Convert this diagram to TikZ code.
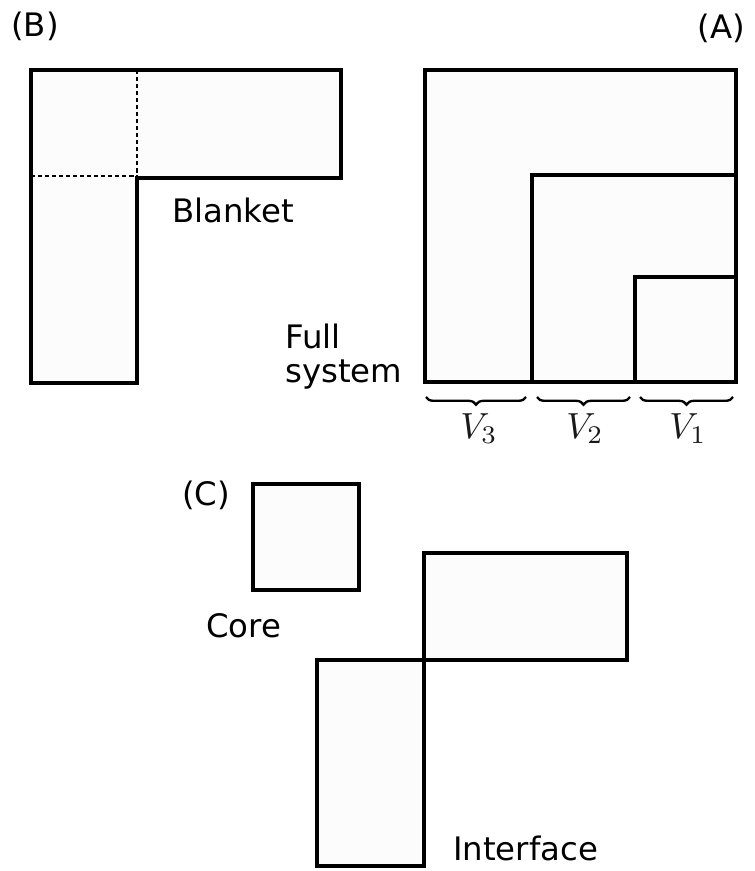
\documentclass[tikz,border=0pt]{standalone}
\usepackage{amsmath}
\usepackage{fontspec}
\setmainfont{DejaVu Sans}
\usepackage{tikz}
\usetikzlibrary{positioning,decorations.pathreplacing}

\begin{document}
\begin{tikzpicture}[x=0.03cm,y=-0.03cm,
	panel/.style={draw,line width=2.6pt,fill=black!1},
	cut/.style={line width=2pt,dash pattern=on 3.5pt off 2.5pt},
	tag/.style={inner sep=0pt,font=\fontsize{27.6}{29}\selectfont},
	vlab/.style={inner sep=0pt,anchor=base,black!90},
	vbrace/.style={decorate,decoration={brace,mirror,amplitude=6.5pt},line width=2pt}]
		\useasboundingbox (0,0) rectangle (754,871);
		% (B)
		\draw[panel] (31,70) -- (341,70) -- (341,178) -- (137,178) -- (137,383) -- (31,383) -- cycle;
		\draw[cut] (137,70) -- (137,178);
		\draw[cut] (31,176) -- (137,176);
		\node[tag,anchor=base west] (labB) at (11,37) {(B)};
		\node[tag,anchor=base west] (blanket) at (172,222) {Blanket};
		% (A)
		\draw[panel] (425,70) rectangle (736,382);
		\draw[panel] (532,175) rectangle (736,382);
		\draw[panel] (635,277) rectangle (736,382);
		\node[tag,anchor=base east] (labA) at (745,39) {(A)};
		\node[tag,anchor=base west,align=left] (full) at (285,382) {Full\\system};
		\draw[vbrace] (426,397) -- (526,397);
		\draw[vbrace] (537,397) -- (630,397);
		\draw[vbrace] (640,397) -- (733,397);
		\node[vlab] (v3) at (479,438) {\scalebox{3.1}{$V_3$}};
		\node[vlab] (v2) at (585,438) {\scalebox{3.1}{$V_2$}};
		\node[vlab] (v1) at (688,438) {\scalebox{3.1}{$V_1$}};
		% (C)
		\draw[panel] (253,484) rectangle (359,590);
		\draw[panel] (424,553) rectangle (627,660);
		\draw[panel] (317,660) rectangle (424,866);
		\node[tag,anchor=base west] (labC) at (182,505) {(C)};
		\node[tag,anchor=base west] (core) at (206,637) {Core};
		\node[tag,anchor=base west] (iface) at (453,860) {Interface};
\end{tikzpicture}
\end{document}
